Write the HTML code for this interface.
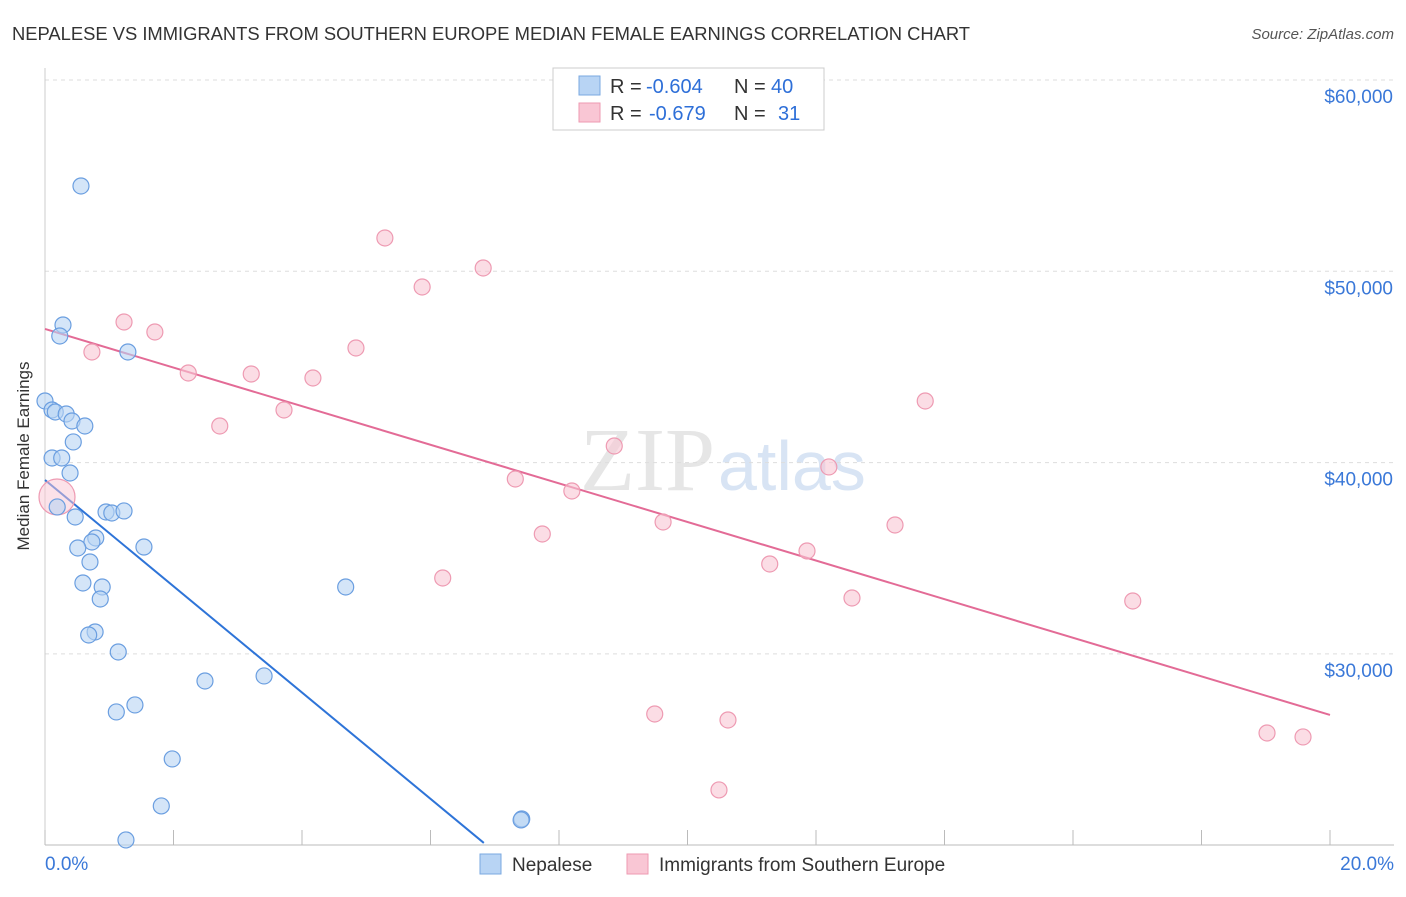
<!DOCTYPE html>
<html><head><meta charset="utf-8"><style>
body{margin:0;background:#fff;font-family:"Liberation Sans",sans-serif;}
</style></head><body>
<svg id="c" width="1406" height="892" xmlns="http://www.w3.org/2000/svg" style="font-family:'Liberation Sans',sans-serif">
<text x="12" y="40" font-size="18.4" fill="#333" textLength="958">NEPALESE VS IMMIGRANTS FROM SOUTHERN EUROPE MEDIAN FEMALE EARNINGS CORRELATION CHART</text>
<text x="1394" y="39" font-size="15" fill="#555" text-anchor="end" font-style="italic">Source: ZipAtlas.com</text>
<text x="715" y="490" font-size="90" fill="#e6e6e6" text-anchor="end" font-family="Liberation Serif">ZIP</text>
<text x="718" y="490" font-size="70" fill="#d8e4f4">atlas</text>
<g id="grid"></g><g id="axes"></g><g id="lines"></g><g id="pts"></g>
<text x="29" y="456" font-size="17" fill="#333" text-anchor="middle" transform="rotate(-90 29 456)">Median Female Earnings</text>
<g>
<rect x="553" y="68" width="271" height="62" fill="#fff" stroke="#ccc"/>
<rect x="579" y="76" width="21" height="19" fill="#b8d4f4" stroke="#7aa8e0"/>
<rect x="579" y="103" width="21" height="19" fill="#f9c6d4" stroke="#ee9ab2"/>
<text x="610" y="93" font-size="20" fill="#333">R =</text>
<text x="646" y="93" font-size="20" fill="#2e6fd8">-0.604</text>
<text x="734" y="93" font-size="20" fill="#333">N =</text>
<text x="771" y="93" font-size="20" fill="#2e6fd8">40</text>
<text x="610" y="120" font-size="20" fill="#333">R =</text>
<text x="649" y="120" font-size="20" fill="#2e6fd8">-0.679</text>
<text x="734" y="120" font-size="20" fill="#333">N =</text>
<text x="778" y="120" font-size="20" fill="#2e6fd8">31</text>
</g>
<g>
<rect x="480" y="854" width="21" height="20" fill="#b8d4f4" stroke="#7aa8e0"/>
<text x="512" y="871" font-size="19" fill="#333">Nepalese</text>
<rect x="627" y="854" width="21" height="20" fill="#f9c6d4" stroke="#ee9ab2"/>
<text x="659" y="871" font-size="19" fill="#333">Immigrants from Southern Europe</text>
</g>
</svg>
<script>
const yTicks=[30000,40000,50000,60000];
const yTickLabels=["$30,000","$40,000","$50,000","$60,000"];
const xTickLabels=["0.0%","20.0%"];
const nepX=[0.56,0.28,0.23,1.29,0,0.11,0.16,0.33,0.42,0.62,0.44,0.11,0.26,0.39,0.19,0.47,0.95,1.04,1.23,0.79,0.73,0.51,1.54,0.70,0.59,0.89,0.86,0.78,0.68,4.68,1.14,2.49,3.41,1.40,1.11,1.98,1.81,1.26,7.42,7.41];
const nepY=[54460,47194,46619,45783,43222,42751,42647,42542,42176,41915,41079,40242,40242,39458,37681,37158,37419,37367,37472,36060,35851,35537,35589,34805,33708,33499,32871,31146,30989,33499,30101,28585,28847,27331,26965,24508,22052,20274,21372,21320];
const seX=[5.29,6.82,5.87,1.23,1.71,0.73,4.84,2.23,3.21,4.17,13.70,3.72,2.72,8.86,12.20,7.32,8.20,0,9.62,13.23,7.74,11.86,11.28,6.19,12.56,16.93,9.49,10.63,19.02,19.58,10.49];
const seY=[51742,50174,49181,47351,46828,45783,45992,44685,44633,44424,43222,42751,41915,40869,39772,39144,38517,38203,36896,36740,36269,35380,34701,33969,32924,32767,26860,26546,25867,25658,22888];
const nepTrendX=[0,6.83];const nepTrendY=[39092,20118];
const seTrendX=[0,20];const seTrendY=[46985,26808];
const NS="http://www.w3.org/2000/svg";
const X=v=>45+v*64.25, Y=v=>80+(60000-v)*0.01913;
function mk(t,a,p){const e=document.createElementNS(NS,t);for(const k in a)e.setAttribute(k,a[k]);document.getElementById(p).appendChild(e);return e;}
yTicks.forEach((t,i)=>{let g=mk('line',{x1:45,x2:1394,y1:Y(t),y2:Y(t),stroke:'#ddd','stroke-dasharray':'4,4'},'grid');

let l=mk('text',{x:1393,y:Y(t)+23,'font-size':19,fill:'#3a78d8','text-anchor':'end'},'axes');l.textContent=yTickLabels[i];
});
let ax=mk('line',{x1:45,x2:1394,y1:845,y2:845,stroke:'#bbb'},'axes');

let ay=mk('line',{x1:45,x2:45,y1:68,y2:845,stroke:'#ccc'},'axes');

for(let i=0;i<=10;i++){let t=mk('line',{x1:X(i*2),x2:X(i*2),y1:830,y2:845,stroke:'#bbb'},'axes');
}
[[0,'start',45],[20,'end',1394]].forEach((d,i)=>{let l=mk('text',{x:d[2],y:870,'font-size':19,fill:'#3a78d8','text-anchor':d[1]},'axes');l.textContent=xTickLabels[i];
});
function pts(xs,ys,f,s,n){xs.forEach((x,i)=>{let big=(n==='se'&&x===0);let c=mk('circle',{cx:X(x)+(big?12:0),cy:Y(ys[i]),r:big?18:8,fill:f,'fill-opacity':big?0.5:0.6,stroke:s,'stroke-width':1.2},'pts');
});}
pts(seX,seY,'#f9c6d4','#ee9ab2','se');
pts(nepX,nepY,'#b8d4f4','#6a9ee0','nep');
let l1=mk('line',{x1:X(nepTrendX[0]),y1:Y(nepTrendY[0]),x2:X(nepTrendX[1]),y2:Y(nepTrendY[1]),stroke:'#2e74d8','stroke-width':2},'lines');

let l2=mk('line',{x1:X(seTrendX[0]),y1:Y(seTrendY[0]),x2:X(seTrendX[1]),y2:Y(seTrendY[1]),stroke:'#e36b96','stroke-width':2},'lines');

</script>
</body></html>
